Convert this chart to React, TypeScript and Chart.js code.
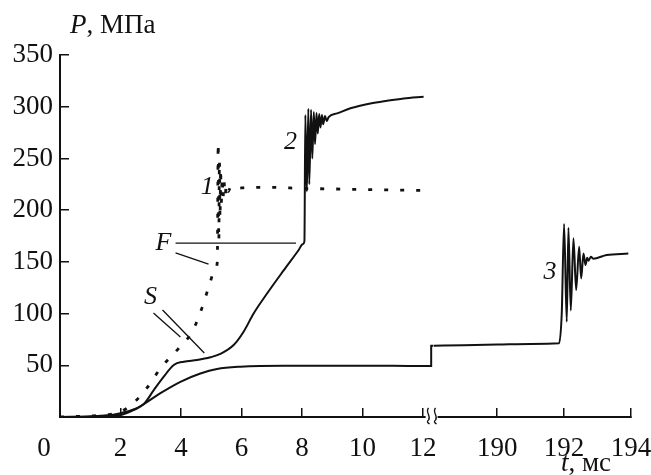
import React, { useEffect, useRef } from 'react';
import { Chart, registerables } from 'chart.js';

Chart.register(...registerables);

// Axis ticks
const yTicks = [0, 50, 100, 150, 200, 250, 300, 350];
const xLeftTicks = [0, 2, 4, 6, 8, 10, 12];
const xRightTicks = [190, 192, 194];

// Curve 1 (dotted, "F" then oscillation "1")
const t1 = [0, 0.5, 1, 1.5, 2, 2.44, 2.88, 3.32, 3.92, 4.37, 4.7, 4.95, 5.14, 5.2, 5.23, 5.25, 5.27, 5.29, 5.31, 5.33, 5.36, 5.39, 5.42, 5.46, 5.5, 5.56, 5.65, 5.8, 6.2, 7, 8, 9, 10, 11, 12];
const p1 = [0, 0.5, 1, 2, 5, 13.8, 28.3, 47, 66.4, 82.5, 106, 129, 143.8, 150, 265, 170, 248, 192, 240, 205, 232, 212, 228, 214, 225, 218, 223, 221, 222, 222, 221, 220.5, 220, 219.5, 219];

// Curve 2 (solid, upper "S" then "2")
const t2 = [0, 1, 1.33, 2, 2.44, 2.77, 3.1, 3.43, 3.76, 4.09, 4.53, 4.97, 5.3, 5.74, 6.07, 6.4, 6.85, 7.4, 7.89, 8.02, 8.08, 8.11, 8.16, 8.21, 8.24, 8.3, 8.34, 8.39, 8.43, 8.48, 8.52, 8.57, 8.61, 8.66, 8.7, 8.76, 8.82, 8.88, 9.16, 9.6, 10.26, 10.81, 11.36, 12.02];
const p2 = [0, 0.5, 1.3, 2, 6.8, 12.5, 26, 39, 50.3, 53.5, 55.1, 57.7, 61, 69.6, 82.5, 100, 119.6, 142, 161.5, 167, 170, 292, 218, 298, 225, 297, 250, 295, 264, 294, 274, 293, 280, 292, 283, 291, 286, 290, 293.5, 298.5, 303.2, 305.8, 308, 309.7];

// Curve 3 (solid, lower "S" then "3") - left part of the axis
const t3a = [0, 1, 1.5, 2, 2.5, 2.77, 3.32, 3.98, 4.64, 5.19, 5.96, 7.4, 9.6, 11, 12.27, 12.27, 12.35];
const p3a = [0, 0.5, 1.2, 3.6, 8, 12.5, 23, 34, 42, 46.4, 48.6, 49.6, 49.6, 49.5, 49.3, 69, 69];
// Curve 3 - right part of the axis (after the break)
const t3b = [188.1, 189, 190, 191, 191.85, 191.93, 192.0, 192.08, 192.13, 192.2, 192.28, 192.36, 192.45, 192.51, 192.58, 192.64, 192.69, 192.73, 192.8, 192.87, 193.27, 193.92];
const p3b = [69, 69.4, 70, 70.7, 71.3, 100, 186.6, 92, 183, 103, 172.8, 122.8, 164.6, 134, 158, 147, 154, 151, 155, 153, 156.6, 158];

// Curve labels (axis: xL = left segment, xR = right segment)
const curveLabels = [
  { text: '2', axis: 'xL', t: 7.62, p: 266 },
  { text: '1', axis: 'xL', t: 4.87, p: 222 },
  { text: '3', axis: 'xR', t: 191.58, p: 140 },
  { text: 'F', axis: 'xL', t: 3.42, p: 168 },
  { text: 'S', axis: 'xL', t: 2.99, p: 116 },
];
// Leader lines [t1, p1, t2, p2]
const leaderLines = [
  [3.82, 168.2, 7.8, 168.2],
  [3.82, 158.6, 4.91, 147.9],
  [3.09, 100.6, 3.98, 77.3],
  [3.39, 103.4, 4.77, 61.9],
];

const INK = '#111';
const SERIF = '"Liberation Serif", "DejaVu Serif", serif';

const zip = (xs: number[], ys: number[]) => xs.map((x, i) => ({ x, y: ys[i] }));

const decorPlugin = {
  id: 'decor',
  afterDraw(chart: any) {
    const ctx = chart.ctx;
    const xL = chart.scales.xL;
    const xR = chart.scales.xR;
    const y = chart.scales.y;
    ctx.save();
    // leader lines
    ctx.strokeStyle = INK;
    ctx.lineWidth = 1.3;
    leaderLines.forEach(([a, b, c, d]) => {
      ctx.beginPath();
      ctx.moveTo(xL.getPixelForValue(a), y.getPixelForValue(b));
      ctx.lineTo(xL.getPixelForValue(c), y.getPixelForValue(d));
      ctx.stroke();
    });
    // curve labels
    ctx.fillStyle = INK;
    ctx.font = `italic 26px ${SERIF}`;
    ctx.textAlign = 'center';
    ctx.textBaseline = 'middle';
    curveLabels.forEach((l) => {
      const sx = l.axis === 'xL' ? xL : xR;
      ctx.fillText(l.text, sx.getPixelForValue(l.t), y.getPixelForValue(l.p));
    });
    // x "0" label
    ctx.font = `27px ${SERIF}`;
    ctx.fillText('0', xL.getPixelForValue(0) - 16, y.bottom + 32);
    // axis titles
    ctx.textAlign = 'left';
    ctx.textBaseline = 'alphabetic';
    ctx.font = `italic 27px ${SERIF}`;
    ctx.fillText('P', 70, 33);
    let w = ctx.measureText('P').width;
    ctx.font = `27px ${SERIF}`;
    ctx.fillText(', МПа', 70 + w, 33);
    ctx.font = `italic 27px ${SERIF}`;
    ctx.fillText('t', 561, 471);
    w = ctx.measureText('t').width;
    ctx.font = `27px ${SERIF}`;
    ctx.fillText(', мс', 561 + w, 471);
    // axis break
    const xb = xL.right;
    const yb = y.bottom;
    ctx.fillStyle = '#fff';
    ctx.fillRect(xb - 8, yb - 3, 12, 6);
    ctx.strokeStyle = INK;
    ctx.lineWidth = 1.3;
    [xb - 6, xb + 1].forEach((cx) => {
      ctx.beginPath();
      ctx.moveTo(cx + 1, yb - 9);
      ctx.bezierCurveTo(cx - 3, yb - 5, cx + 4, yb - 1, cx + 1, yb + 3);
      ctx.bezierCurveTo(cx - 2, yb + 5, cx + 2, yb + 7, cx + 2, yb + 7);
      ctx.stroke();
    });
    ctx.restore();
  },
};

export default function App() {
  const ref = useRef<HTMLCanvasElement>(null);
  useEffect(() => {
    if (!ref.current) return;
    const lineBase = {
      borderColor: INK,
      borderWidth: 2,
      pointRadius: 0,
      fill: false,
      cubicInterpolationMode: 'monotone' as const,
    };
    const tickFont = { family: SERIF, size: 27 };
    const fitX = (s: any) => {
      s.height = 58;
      s.paddingLeft = 0;
      s.paddingRight = 0;
    };
    const chart = new Chart(ref.current, {
      type: 'line',
      data: {
        datasets: [
          { ...lineBase, data: zip(t1, p1), xAxisID: 'xL', borderDash: [4, 12], borderWidth: 2.8 },
          { ...lineBase, data: zip(t2, p2), xAxisID: 'xL' },
          { ...lineBase, data: zip(t3a, p3a), xAxisID: 'xL' },
          { ...lineBase, data: zip(t3b, p3b), xAxisID: 'xR' },
        ],
      },
      options: {
        animation: false,
        responsive: false,
        devicePixelRatio: 1,
        layout: { padding: { top: 55, right: 20, left: 0, bottom: 0 } },
        plugins: { legend: { display: false }, tooltip: { enabled: false }, title: { display: false } },
        scales: {
          xL: {
            type: 'linear',
            position: 'bottom',
            stack: 'x',
            stackWeight: 373.6,
            min: 0,
            max: 12.35,
            afterBuildTicks: (s: any) => { s.ticks = xLeftTicks.map((v) => ({ value: v })); },
            afterFit: fitX,
            grid: { drawOnChartArea: false, tickLength: -9, color: INK, lineWidth: 1.5 },
            border: { color: INK, width: 2 },
            ticks: {
              color: INK,
              font: tickFont,
              padding: 25,
              maxRotation: 0,
              autoSkip: false,
              callback: (v: any) => (v === 0 ? '' : String(v)),
            },
          },
          xR: {
            type: 'linear',
            position: 'bottom',
            stack: 'x',
            stackWeight: 197.4,
            min: 188.1,
            max: 194,
            afterBuildTicks: (s: any) => { s.ticks = xRightTicks.map((v) => ({ value: v })); },
            afterFit: fitX,
            grid: { drawOnChartArea: false, tickLength: -9, color: INK, lineWidth: 1.5 },
            border: { color: INK, width: 2 },
            ticks: { color: INK, font: tickFont, padding: 25, maxRotation: 0, autoSkip: false },
          },
          y: {
            type: 'linear',
            position: 'left',
            min: 0,
            max: 350,
            afterBuildTicks: (s: any) => { s.ticks = yTicks.map((v) => ({ value: v })); },
            afterFit: (s: any) => {
              s.width = 60;
              s.paddingTop = 0;
              s.paddingBottom = 0;
            },
            grid: { drawOnChartArea: false, tickLength: -9, color: INK, lineWidth: 1.5 },
            border: { color: INK, width: 2 },
            ticks: {
              color: INK,
              font: tickFont,
              padding: 16,
              callback: (v: any) => (v === 0 ? '' : String(v)),
            },
          },
        },
      },
      plugins: [decorPlugin],
    });
    return () => chart.destroy();
  }, []);
  return (
    <div style={{ position: 'fixed', left: 0, top: 0, width: 651, height: 475, background: '#fff' }}>
      <canvas ref={ref} width={651} height={475} style={{ display: 'block' }} />
    </div>
  );
}
